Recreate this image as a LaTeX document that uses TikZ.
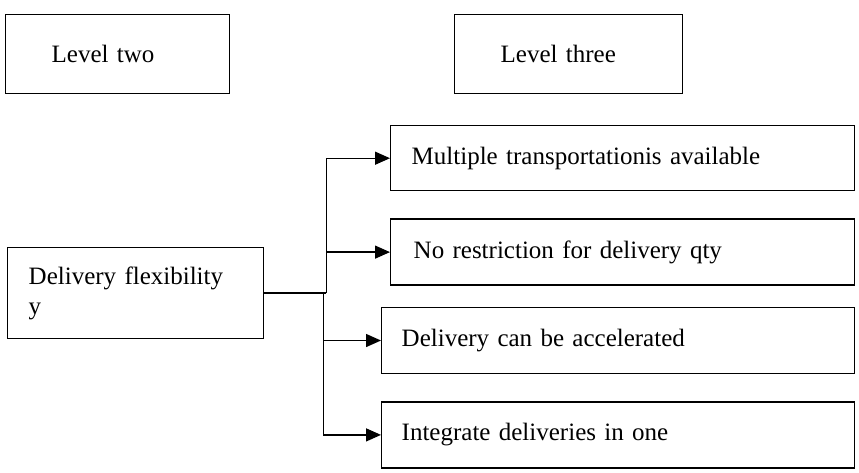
\documentclass[tikz,border=0pt]{standalone}
\usepackage{fontspec}
\setmainfont{Liberation Serif}
\usetikzlibrary{arrows.meta,positioning}

\begin{document}
\begin{tikzpicture}[x=1pt,y=-1pt,>={Triangle[length=15pt,width=13pt]},line width=1.4pt,
    box/.style={draw,anchor=north west,align=left,inner ysep=0pt,
        font=\fontsize{25}{30}\selectfont},
    trunk/.style={line width=2.2pt}]

                \useasboundingbox (0,0) rectangle (859,472);

                \node[box,minimum height=79pt,inner xsep=46pt,text width=132pt] (lvtwo) at (5,14) {Level two};

                \node[box,minimum height=79pt,inner xsep=46pt,text width=136pt] (lvthree) at (454,14) {Level three};

                

                \node[box,minimum height=65pt,inner xsep=21pt,text width=422pt] (multi) at (390,125) {Multiple transportationis available};

                \node[box,minimum height=66pt,inner xsep=23pt,text width=418pt] (norestr) [below=27pt of multi.south west,anchor=north west] {No restriction for delivery qty};

                \node[box,minimum height=66pt,inner xsep=20pt,text width=433pt] (accel) [below=21pt of norestr.south west,anchor=north west,xshift=-9pt] {Delivery can be accelerated};

                \node[box,minimum height=66pt,inner xsep=20pt,text width=433pt] (integ) [below=27pt of accel.south west,anchor=north west] {Integrate deliveries in one};

                

                \node[box,minimum height=91pt,inner xsep=21pt,text width=214pt] (flex) at (7,247) {Delivery flexibility\\y};

                

                \coordinate (jup) at ([xshift=62pt]flex.east);

                \coordinate (jdn) at ([xshift=59pt]flex.east);

                \draw[trunk] (flex.east) -- (jup);

                \foreach \to in {multi, norestr}
                    {
                    \draw[->] (jup) |- (\to.west);
                    }

                \foreach \to in {accel, integ}
                    {
                    \draw[->] (jdn) |- (\to.west);
                    }

            \end{tikzpicture}
\end{document}
